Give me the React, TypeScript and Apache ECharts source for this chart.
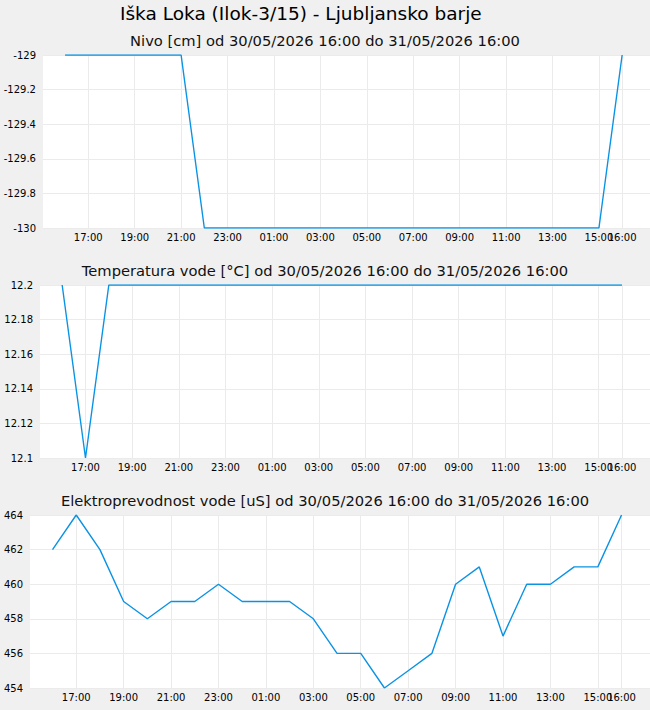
import { useEffect, useRef } from 'react'
import * as echarts from 'echarts'

const TITLE = 'Iška Loka (Ilok-3/15) - Ljubljansko barje'
const PERIOD = 'od 30/05/2026 16:00 do 31/05/2026 16:00'
const PANEL_NAMES = ['Nivo [cm]', 'Temperatura vode [°C]', 'Elektroprevodnost vode [uS]']

// hourly readings, 30/05 16:00 .. 31/05 16:00
const HOURS = [
  '16:00', '17:00', '18:00', '19:00', '20:00', '21:00', '22:00', '23:00',
  '00:00', '01:00', '02:00', '03:00', '04:00', '05:00', '06:00', '07:00',
  '08:00', '09:00', '10:00', '11:00', '12:00', '13:00', '14:00', '15:00',
  '16:00',
]

// which hours get a label / grid line
const TICK_INDEX = [1, 3, 5, 7, 9, 11, 13, 15, 17, 19, 21, 23]
const LAST_TICK = [24]

const NIVO = [
  -129, -129, -129, -129, -129, -129, -130, -130, -130, -130, -130, -130, -130,
  -130, -130, -130, -130, -130, -130, -130, -130, -130, -130, -130, -129,
]
const TEMPERATURA = [
  12.2, 12.1, 12.2, 12.2, 12.2, 12.2, 12.2, 12.2, 12.2, 12.2, 12.2, 12.2, 12.2,
  12.2, 12.2, 12.2, 12.2, 12.2, 12.2, 12.2, 12.2, 12.2, 12.2, 12.2, 12.2,
]
const PREVODNOST = [
  462, 464, 462, 459, 458, 459, 459, 460, 459, 459, 459, 458, 456, 456, 454,
  455, 456, 460, 461, 457, 460, 460, 461, 461, 464,
]

const SERIES = [NIVO, TEMPERATURA, PREVODNOST]
const Y_MIN = [-130, 12.1, 454]
const Y_MAX = [-129, 12.2, 464]
const Y_STEP = [0.2, 0.02, 2]

const GRID_LEFT = [43, 40, 30]
const GRID_TOP = [55, 285, 515]
const GRID_HEIGHT = 173

const FONT = 'DejaVu Sans'
const LINE_COLOR = '#0a93e5'
const GRID_COLOR = '#ebebeb'

export default function App() {
  const chartRef = useRef<HTMLDivElement>(null)

  useEffect(() => {
    if (!chartRef.current) return
    const chart = echarts.init(chartRef.current, null, { renderer: 'svg' })

    const label = (v: number) => HOURS[v] ?? ''

    // two bottom axes per panel so that "15:00" and "16:00" both stay visible
    const xAxisFor = (i: number, ticks: number[]) => ({
      type: 'value',
      gridIndex: i,
      position: 'bottom',
      min: -0.95,
      max: 25.2,
      axisLine: { show: false },
      axisTick: { show: false, customValues: ticks },
      axisLabel: {
        customValues: ticks,
        formatter: label,
        fontSize: 10,
        fontFamily: FONT,
        color: '#000',
        margin: 4,
      },
      splitLine: { show: true, lineStyle: { color: GRID_COLOR, width: 1 } },
    })

    chart.setOption({
      animation: false,
      backgroundColor: '#f0f0f0',
      title: [
        {
          text: TITLE,
          left: 120,
          top: 4,
          padding: 0,
          textStyle: { fontFamily: FONT, fontSize: 18.5, fontWeight: 'normal', color: '#000' },
        },
        ...PANEL_NAMES.map((name, i) => ({
          text: `${name} ${PERIOD}`,
          left: 'center',
          top: GRID_TOP[i] - 22.5,
          padding: 0,
          textStyle: { fontFamily: FONT, fontSize: 14.7, fontWeight: 'normal', color: '#111' },
        })),
      ],
      grid: GRID_TOP.map((top, i) => ({
        left: GRID_LEFT[i],
        right: 0,
        top,
        height: GRID_HEIGHT,
        show: true,
        backgroundColor: '#fff',
        borderWidth: 0,
      })),
      xAxis: [
        ...SERIES.map((_, i) => xAxisFor(i, TICK_INDEX)),
        ...SERIES.map((_, i) => xAxisFor(i, LAST_TICK)),
      ],
      yAxis: SERIES.map((_, i) => ({
        type: 'value',
        gridIndex: i,
        min: Y_MIN[i],
        max: Y_MAX[i],
        interval: Y_STEP[i],
        axisLine: { show: false },
        axisTick: { show: false },
        axisLabel: { fontSize: 10, fontFamily: FONT, color: '#000', margin: 7 },
        splitLine: { show: true, lineStyle: { color: GRID_COLOR, width: 1 } },
      })),
      series: SERIES.map((values, i) => ({
        type: 'line',
        xAxisIndex: i,
        yAxisIndex: i,
        data: values.map((v, k) => [k, v]),
        showSymbol: false,
        symbol: 'none',
        lineStyle: { color: LINE_COLOR, width: 1.4 },
        itemStyle: { color: LINE_COLOR },
      })),
    })

    return () => chart.dispose()
  }, [])

  return (
    <div
      ref={chartRef}
      style={{ position: 'absolute', left: 0, top: 0, width: 650, height: 710 }}
    />
  )
}
